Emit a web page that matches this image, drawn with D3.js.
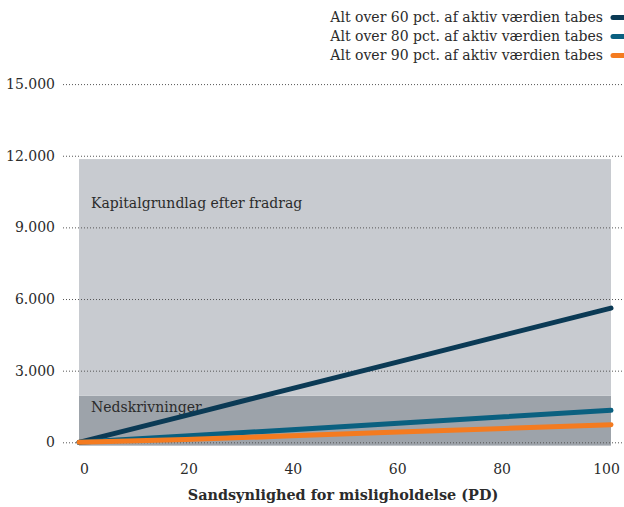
<!DOCTYPE html>
<html>
<head>
<meta charset="utf-8">
<script src="https://cdn.jsdelivr.net/npm/d3@7"></script>
<style>
  html, body { margin: 0; padding: 0; background: #fff; }
  svg { display: block; }
  svg text { font-family: "DejaVu Serif", serif; fill: #2b2b2b; }
</style>
</head>
<body>
<svg id="chart" width="624" height="507"></svg>
<script>
// PD (sandsynlighed for misligholdelse) in percent
const pd = [0, 20, 40, 60, 80, 100];

// Write-downs under each loss scenario
const seriesNames = [
  "Alt over 60 pct. af aktiv værdien tabes",
  "Alt over 80 pct. af aktiv værdien tabes",
  "Alt over 90 pct. af aktiv værdien tabes"
];
const loss60 = [0, 1120, 2250, 3370, 4500, 5620];
const loss80 = [0, 260, 530, 800, 1070, 1340];
const loss90 = [0, 120, 270, 430, 580, 737];
const seriesColors = ["#0b3a55", "#0a6080", "#f47b20"];

// Background bands
const bandNames = ["Nedskrivninger", "Kapitalgrundlag efter fradrag"];
const bandLower = [-140, 1950];
const bandUpper = [1950, 11860];
const bandColors = ["#9da3aa", "#c8cbd0"];

// Axis ticks
const yTicks = [0, 3000, 6000, 9000, 12000, 15000];
const xTickLabels = ["0", "20", "40", "60", "80", "100"];
const xTitle = "Sandsynlighed for misligholdelse (PD)";

const svg = d3.select("#chart");
const W = 624;

const x = d3.scaleLinear().domain([0, 100]).range([79, 611]);
const xLabel = d3.scalePoint().domain(xTickLabels).range([84, 606]);
const y = d3.scaleLinear().domain([0, 15000]).range([442.3, 84.1]);

const locale = d3.formatLocale({ decimal: ",", thousands: ".", grouping: [3], currency: ["", " kr."] });
const fmt = locale.format(",d");

// Bands
svg.append("g").selectAll("rect")
  .data(bandNames.map((n, i) => ({ n, lo: bandLower[i], hi: bandUpper[i], c: bandColors[i] })))
  .join("rect")
  .attr("x", x(0))
  .attr("width", x(100) - x(0))
  .attr("y", d => y(d.hi))
  .attr("height", d => y(d.lo) - y(d.hi))
  .attr("fill", d => d.c);

// Gridlines and y labels
const yAxis = d3.axisLeft(y).tickValues(yTicks).tickFormat(fmt).tickSize(0).tickPadding(8);
const gy = svg.append("g").attr("transform", "translate(63,0)").call(yAxis);
gy.select(".domain").remove();
gy.selectAll(".tick text")
  .style("font-size", "14px")
  .style("font-family", "'DejaVu Serif', serif")
  .style("fill", "#2b2b2b");
gy.selectAll(".tick").append("line")
  .attr("x1", 0).attr("x2", W - 63)
  .attr("stroke", "#555")
  .attr("stroke-width", 1)
  .attr("stroke-dasharray", "1,2");

// Band labels
svg.append("g").selectAll("text")
  .data(bandNames)
  .join("text")
  .attr("x", 91)
  .attr("y", (d, i) => i === 0 ? 412 : 208)
  .style("font-size", "14px")
  .text(d => d);

// Lines
const series = [loss60, loss80, loss90];
const line = d3.line().x((d, i) => x(pd[i])).y(d => y(d));
svg.append("g").selectAll("path")
  .data(series)
  .join("path")
  .attr("d", d => line(d))
  .attr("fill", "none")
  .attr("stroke", (d, i) => seriesColors[i])
  .attr("stroke-width", 5)
  .attr("stroke-linecap", "round");

// X tick labels
const xAxis = d3.axisBottom(xLabel).tickSize(0).tickPadding(0);
const gx = svg.append("g").attr("transform", "translate(0,464)").call(xAxis);
gx.select(".domain").remove();
gx.selectAll(".tick text")
  .style("font-size", "14px")
  .style("font-family", "'DejaVu Serif', serif")
  .style("fill", "#2b2b2b");

// X title
svg.append("text")
  .attr("x", 343)
  .attr("y", 500)
  .attr("text-anchor", "middle")
  .style("font-size", "14.4px")
  .style("font-weight", "bold")
  .text(xTitle);

// Legend
const legend = svg.append("g").selectAll("g")
  .data(seriesNames)
  .join("g")
  .attr("transform", (d, i) => `translate(0,${17.5 + i * 19})`);
legend.append("text")
  .attr("x", 603)
  .attr("dy", "0.35em")
  .attr("text-anchor", "end")
  .style("font-size", "14px")
  .text(d => d);
legend.append("line")
  .attr("x1", 613).attr("x2", 630)
  .attr("stroke", (d, i) => seriesColors[i])
  .attr("stroke-width", 5)
  .attr("stroke-linecap", "round");
</script>
</body>
</html>
